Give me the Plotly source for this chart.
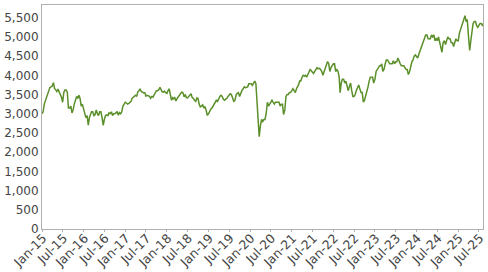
import plotly.graph_objects as go
import pandas as pd

# ~3 readings per month (early, mid, late)
v2015 = [3000, 3050, 3250, 3350, 3420, 3520, 3600, 3680, 3700, 3720, 3810, 3660,
         3620, 3580, 3640, 3560, 3480, 3430, 3300, 3550, 3620, 3620, 3560, 3150,
         3150, 3200, 3020, 3100, 3250, 3380, 3450, 3400, 3480, 3400, 3200, 3250]
v2016 = [3100, 2980, 2900, 2950, 2700, 2900, 3000, 3050, 3050, 2950, 2980, 3100,
         3000, 2950, 3050, 3050, 2900, 2700, 2850, 2950, 2970, 2950, 3020, 3000,
         3050, 2950, 3000, 3000, 3020, 3060, 2960, 3030, 3000, 3050, 3200, 3250]
v2017 = [3300, 3280, 3250, 3270, 3310, 3320, 3400, 3420, 3450, 3480, 3450, 3570,
         3600, 3650, 3580, 3560, 3540, 3550, 3460, 3480, 3460, 3450, 3400, 3450,
         3430, 3500, 3530, 3600, 3600, 3620, 3690, 3620, 3570, 3560, 3590, 3550]
v2018 = [3530, 3600, 3650, 3480, 3350, 3420, 3390, 3420, 3330, 3400, 3430, 3480,
         3530, 3560, 3550, 3440, 3500, 3420, 3410, 3450, 3480, 3520, 3420, 3400,
         3350, 3320, 3410, 3400, 3250, 3180, 3200, 3230, 3160, 3180, 3100, 2960]
v2019 = [3000, 3080, 3120, 3150, 3200, 3270, 3300, 3350, 3320, 3420, 3450, 3480,
         3450, 3380, 3350, 3380, 3400, 3450, 3500, 3520, 3500, 3380, 3320, 3350,
         3500, 3530, 3550, 3450, 3550, 3600, 3650, 3700, 3680, 3700, 3700, 3780]
v2020 = [3770, 3780, 3740, 3800, 3850, 3780, 3300, 2600, 2400, 2700, 2850, 2800,
         2850, 2850, 3000, 3300, 3200, 3250, 3300, 3350, 3300, 3250, 3300, 3300,
         3300, 3300, 3200, 3250, 3250, 2980, 3100, 3450, 3500, 3500, 3550, 3550]
v2021 = [3600, 3650, 3600, 3550, 3650, 3700, 3750, 3850, 3850, 3950, 4000, 3980,
         4000, 3950, 4030, 4100, 4150, 4120, 4080, 4050, 4100, 4150, 4200, 4170,
         4180, 4150, 4100, 4000, 4100, 4180, 4270, 4360, 4300, 4100, 4200, 4250]
v2022 = [4300, 4300, 4100, 4150, 4100, 3950, 3550, 3800, 3900, 3900, 3800, 3850,
         3700, 3600, 3700, 3800, 3600, 3450, 3450, 3500, 3600, 3700, 3750, 3650,
         3550, 3550, 3300, 3350, 3450, 3550, 3700, 3850, 3950, 3950, 3950, 3800]
v2023 = [3900, 4100, 4150, 4200, 4250, 4250, 4300, 4100, 4150, 4300, 4400, 4400,
         4350, 4300, 4300, 4300, 4380, 4300, 4350, 4350, 4450, 4350, 4300, 4250,
         4250, 4250, 4200, 4150, 4150, 4020, 4100, 4250, 4350, 4400, 4500, 4530]
v2024 = [4500, 4450, 4550, 4650, 4750, 4850, 4900, 5000, 5050, 5050, 4950, 4950,
         4950, 5050, 5000, 5050, 4900, 4950, 4900, 5000, 4850, 4650, 4600, 4850,
         4900, 4800, 4900, 5000, 4950, 4950, 4850, 4850, 4750, 4850, 4950, 4900]
v2025 = [4900, 5100, 5200, 5250, 5400, 5500, 5550, 5400, 5450, 5000, 4650, 4900,
         5200, 5350, 5400, 5400, 5300, 5250, 5300, 5350, 5350, 5300, 5350]

years = {2015: v2015, 2016: v2016, 2017: v2017, 2018: v2018, 2019: v2019,
         2020: v2020, 2021: v2021, 2022: v2022, 2023: v2023, 2024: v2024,
         2025: v2025}
slot_days = [1, 11, 21]

dates, values = [], []
for yr, vals in years.items():
    for i, v in enumerate(vals):
        m = i // 3 + 1
        d = slot_days[i % 3]
        dates.append(pd.Timestamp(year=yr, month=m, day=d))
        values.append(v)

fig = go.Figure()
fig.add_trace(go.Scatter(x=dates, y=values, mode="lines",
                         line=dict(color="#5a8f29", width=1.5),
                         showlegend=False, hoverinfo="skip"))

y_font = dict(family="DejaVu Sans", size=12, color="#444444")
x_font = dict(family="DejaVu Sans", size=12.5, color="#444444")
fig.update_layout(
    width=488, height=272,
    margin=dict(l=42, r=5, t=5, b=43, autoexpand=False),
    paper_bgcolor="white", plot_bgcolor="white",
    font=y_font,
)
fig.update_xaxes(
    range=[pd.Timestamp("2015-01-01"), pd.Timestamp("2025-08-06")],
    tickformat="%b-%y", dtick="M6", tick0="2015-01-01", tickangle=-45,
    showgrid=False, zeroline=False, showline=True, linecolor="#b0b0b0",
    linewidth=1, mirror=True, ticks="outside", ticklen=2, tickcolor="#b0b0b0",
    tickfont=x_font, automargin=False,
    ticklabelshift=1, ticklabelstandoff=-6, ticklabeloverflow="allow",
)
fig.update_yaxes(
    range=[0, 5830], dtick=500, tickformat=",",
    showgrid=False, zeroline=False, showline=True, linecolor="#b0b0b0",
    linewidth=1, mirror=True, ticks="", tickfont=y_font, automargin=False,
)

fig.write_html("out.html")
